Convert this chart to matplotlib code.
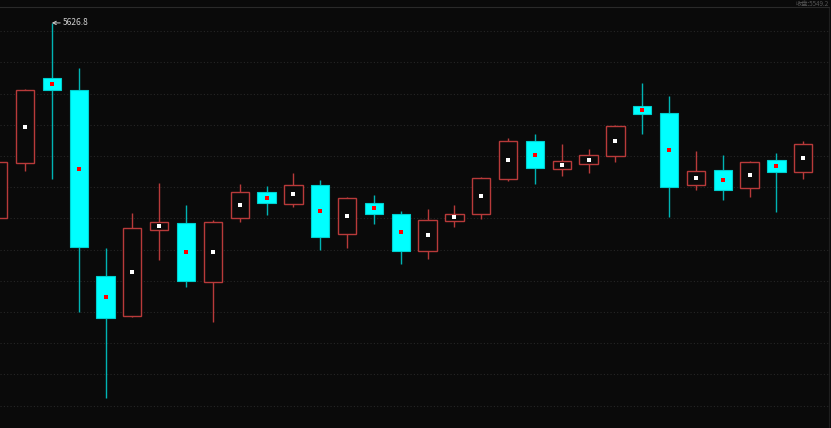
import matplotlib
matplotlib.use("Agg")
import matplotlib.pyplot as plt
from matplotlib.patches import Rectangle

plt.rcParams['font.family'] = ['Noto Sans CJK SC', 'DejaVu Sans']

# OHLC values (left to right)
opens = [5502.0, 5536.8, 5591.5, 5583.6, 5464.6, 5439.1, 5494.3, 5498.7, 5460.9, 5501.6,
         5518.2, 5510.9, 5522.9, 5491.5, 5511.6, 5504.5, 5480.8, 5500.0, 5504.3, 5526.8,
         5551.1, 5533.4, 5536.4, 5541.7, 5573.6, 5569.1, 5523.1, 5532.7, 5521.0, 5538.9,
         5531.4]
highs = [5538.9, 5584.5, 5626.8, 5597.7, 5482.5, 5505.0, 5524.2, 5510.3, 5500.5, 5523.4,
         5522.3, 5530.6, 5526.1, 5515.2, 5516.5, 5506.2, 5507.5, 5510.1, 5527.8, 5553.0,
         5555.6, 5549.2, 5546.0, 5561.4, 5588.5, 5580.0, 5544.9, 5542.3, 5538.5, 5543.6,
         5551.3]
lows = [5501.1, 5532.1, 5526.8, 5441.5, 5386.2, 5438.5, 5475.0, 5457.3, 5435.3, 5499.4,
        5503.7, 5508.8, 5481.2, 5482.5, 5497.9, 5472.3, 5475.5, 5496.0, 5501.3, 5525.7,
        5523.6, 5528.7, 5530.6, 5537.9, 5555.8, 5502.4, 5519.7, 5513.3, 5515.4, 5505.6,
        5527.0]
closes = [5537.7, 5583.8, 5583.6, 5483.2, 5437.5, 5495.2, 5499.0, 5461.2, 5499.2, 5518.2,
          5511.2, 5522.9, 5489.8, 5514.6, 5504.3, 5480.6, 5500.5, 5504.5, 5527.4, 5551.1,
          5533.8, 5538.3, 5542.1, 5560.7, 5568.6, 5521.6, 5531.9, 5519.9, 5537.7, 5531.4,
          5549.2]
grid_levels = [5621.5, 5601.5, 5581.5, 5561.5, 5541.5, 5521.5, 5501.5, 5481.5,
               5461.5, 5441.5, 5421.5, 5401.5, 5381.5]

bg = '#0a0a0a'
up_col = '#b83a3a'
down_col = '#00ffff'
down_wick = '#00b4b4'

fig = plt.figure(figsize=(8.31, 4.28), dpi=100, facecolor=bg)
ax = fig.add_axes([0, 0, 829 / 831, 421 / 428])
ax.set_facecolor(bg)

for g in grid_levels:
    ax.axhline(g, color='#262626', lw=0.8, ls=(0, (1, 2)), zorder=0)

w = 0.68
for i, (o, h, l, c) in enumerate(zip(opens, highs, lows, closes)):
    top, bot = max(o, c), min(o, c)
    if c >= o:
        ax.vlines(i, top, h, color=up_col, lw=1, zorder=1)
        ax.vlines(i, l, bot, color=up_col, lw=1, zorder=1)
        ax.add_patch(Rectangle((i - w / 2, bot), w, top - bot, facecolor=bg,
                               edgecolor=up_col, lw=1, zorder=2))
        ax.plot(i, (o + c) / 2, 's', color='white', ms=3, mew=0, zorder=3)
    else:
        ax.vlines(i, l, h, color=down_wick, lw=1, zorder=1)
        ax.add_patch(Rectangle((i - w / 2, bot), w, top - bot, facecolor=down_col,
                               edgecolor='#00d0d0', lw=0.8, zorder=2))
        ax.plot(i, (o + c) / 2, 's', color='#ff0000', ms=3, mew=0, zorder=3)

# label the highest high
imax = highs.index(max(highs))
ax.annotate(f'{highs[imax]:.1f}', xy=(imax, highs[imax]), xytext=(8, 0),
            textcoords='offset points', ha='left', va='center', fontsize=6,
            color='#cfcfcf',
            arrowprops=dict(arrowstyle='->', color='#cfcfcf', lw=0.7,
                            shrinkA=0, shrinkB=0))

ax.set_xlim(0.067, 30.96)
ax.set_ylim(5367.2, 5637.0)
ax.set_xticks([])
ax.set_yticks([])
for side in ['left', 'bottom']:
    ax.spines[side].set_visible(False)
ax.spines['top'].set_color('#2a2a2a')
ax.spines['right'].set_color('#1e1e1e')

fig.text(0.997, 0.999, f'收盘:{closes[-1]:.1f}', ha='right', va='top',
         fontsize=4.5, color='#555555')

fig.savefig('out.png', dpi=100, facecolor=bg)
